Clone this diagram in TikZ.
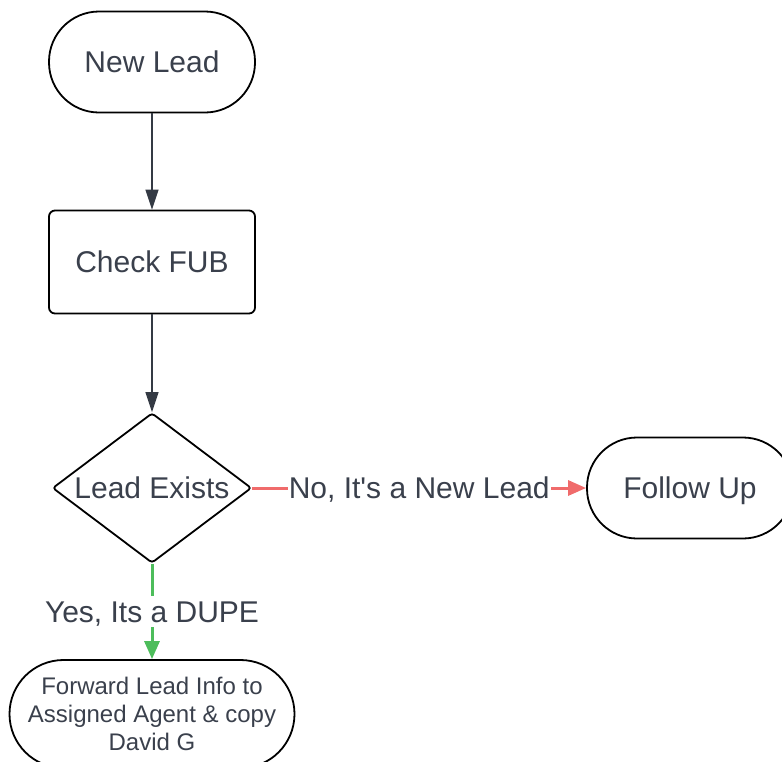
\documentclass[tikz,border=0pt]{standalone}
\usepackage{fontspec}
\setmainfont{Liberation Sans}
\usetikzlibrary{shapes.geometric,arrows.meta}
\definecolor{txtgray}{HTML}{3A404C}
\definecolor{linegray}{HTML}{343A44}
\definecolor{nored}{HTML}{F06B6B}
\definecolor{yesgreen}{HTML}{4DBD5B}
\begin{document}
\begin{tikzpicture}[x=1pt,y=1pt,
        terminal/.style={draw=black,line width=1.8pt,rounded corners=50pt,minimum width=206pt,minimum height=101pt,text=txtgray,font=\fontsize{30}{36}\selectfont,text height=21.5pt,text depth=0pt},
        process/.style={draw=black,line width=1.8pt,rounded corners=6pt,minimum width=206pt,minimum height=103pt,text=txtgray,font=\fontsize{30}{36}\selectfont,text height=21.5pt,text depth=0pt},
        decision/.style={diamond,draw=black,line width=1.8pt,rounded corners=3pt,inner sep=0pt,aspect=1.33,minimum width=199pt,minimum height=150pt,text=txtgray,font=\fontsize{30}{36}\selectfont,text height=21.5pt,text depth=0pt},
        flow/.style={draw=linegray,line width=1.2pt,-{Triangle[length=20pt,width=13pt]}},
        noflow/.style={draw=nored,line width=3pt,-{Triangle[length=18pt,width=15pt]}},
        yesflow/.style={draw=yesgreen,line width=3pt,-{Triangle[length=18pt,width=15pt]}},
        edgelabel/.style={fill=white,text=txtgray,inner xsep=1pt,inner ysep=5pt,font=\fontsize{30}{36}\selectfont,text height=21.5pt,text depth=0pt}]
        \useasboundingbox (0,0) rectangle (782,-761);
        \node[terminal] (start) at (152,-62) {New Lead};
        \node[process] (check) at (152,-262) {Check FUB};
        \node[decision] (exists) at (152,-488) {Lead Exists};
        \node[terminal] (follow) at (690,-488) {Follow Up};
        \node[terminal,minimum width=285pt,minimum height=108pt,rounded corners=54pt,align=center,font=\fontsize{24}{28}\selectfont,text height=,text depth=] (forward) at (152,-714) {Forward Lead Info to\\Assigned Agent \& copy\\David G};
        \draw[flow] (start) -- (check);
        \draw[flow] (check) -- (exists);
        \draw[noflow] (exists) -- node[edgelabel] {No, It\textquotesingle s a New Lead} (follow);
        \draw[yesflow] (exists) -- node[edgelabel] {Yes, Its a DUPE} (forward);
\end{tikzpicture}
\end{document}
